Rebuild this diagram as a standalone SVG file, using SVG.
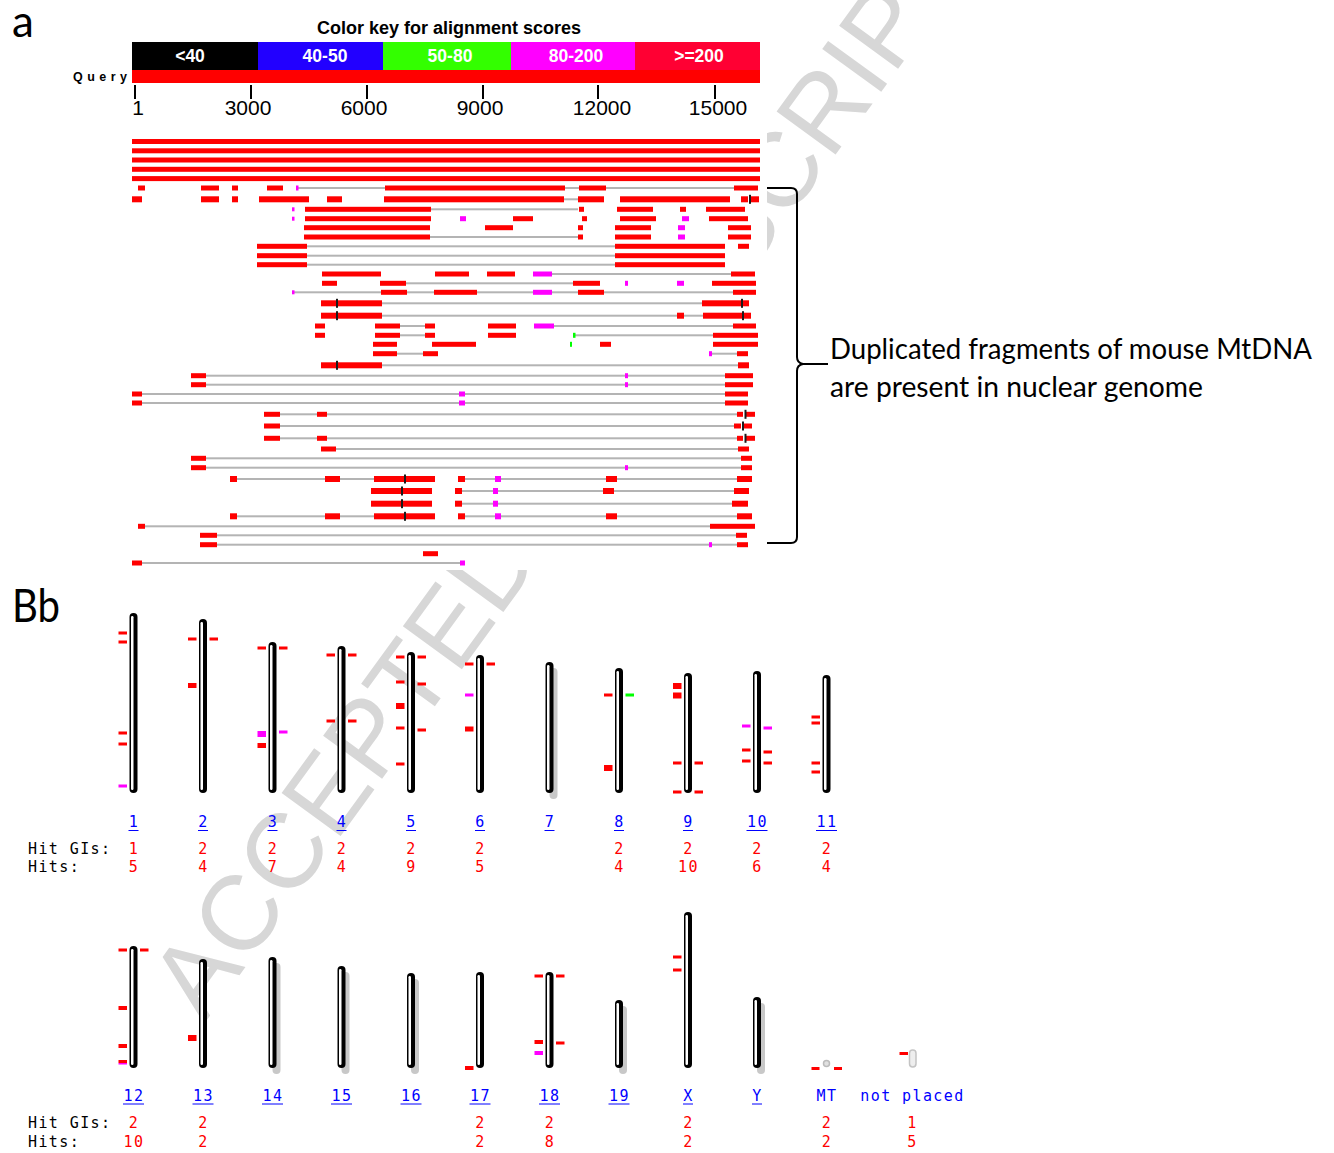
<svg xmlns="http://www.w3.org/2000/svg" width="1334" height="1153" viewBox="0 0 1334 1153">
<style>
.r{fill:#ff0000}.g{fill:#b4b4b4}.m{fill:#ff00ff}.n{fill:#00ff00}.k{fill:#1a1a1a}
.cb{fill:#000}.cw{fill:#fff}.cs{fill:#c8c8c8}
.lbl{font-family:"Lato","Open Sans",sans-serif;fill:#000}
.mono{font-family:"DejaVu Sans Mono",monospace;font-size:15px;letter-spacing:1.4px}
.blue{fill:#0000ff}.red{fill:#ff0000}.blk{fill:#000}
.ul{stroke:#0000ff;stroke-width:1}
.key{font-family:"Liberation Sans",Arial,sans-serif;font-weight:bold;font-size:17.5px;fill:#fff;text-anchor:middle}
.tick{font-family:"Liberation Sans",Arial,sans-serif;font-size:21px;fill:#000;text-anchor:middle}
</style>
<rect width="1334" height="1153" fill="#fff"/>
<g id="watermark">
<text transform="translate(204,1024) rotate(-54)" font-family="Liberation Sans, Arial, sans-serif" font-size="106" fill="#d7d7d7">ACCEPTED MANUSCRIPT</text>
</g>
<rect x="128" y="0" width="639" height="570" fill="#fff"/>
<g id="panel-a">
<text class="lbl" x="12" y="37" font-size="44">a</text>
<g id="color-key">
<text x="449" y="34" text-anchor="middle" font-family="Liberation Sans, Arial, sans-serif" font-weight="bold" font-size="18">Color key for alignment scores</text>
<rect x="132" y="42" width="126" height="28" fill="#000"/>
<rect x="258" y="42" width="125" height="28" fill="#2200ff"/>
<rect x="383" y="42" width="128" height="28" fill="#33ff00"/>
<rect x="511" y="42" width="124" height="28" fill="#ff00ff"/>
<rect x="635" y="42" width="125" height="28" fill="#ff0033"/>
<text class="key" x="190" y="62">&lt;40</text>
<text class="key" x="325" y="62">40-50</text>
<text class="key" x="450" y="62">50-80</text>
<text class="key" x="576" y="62">80-200</text>
<text class="key" x="699" y="62">&gt;=200</text>
<text x="73" y="81" font-family="Liberation Sans, Arial, sans-serif" font-weight="bold" font-size="12.5" textLength="54" lengthAdjust="spacing">Query</text>
<rect x="132" y="70" width="628" height="13" fill="#ff0000"/>
<g fill="#000">
<rect x="134" y="85" width="2" height="14"/><rect x="250" y="85" width="2" height="14"/><rect x="366" y="85" width="2" height="14"/>
<rect x="482" y="85" width="2" height="14"/><rect x="597" y="85" width="2" height="14"/><rect x="714" y="85" width="2" height="14"/>
</g>
<text class="tick" x="138" y="115">1</text>
<text class="tick" x="248" y="115">3000</text>
<text class="tick" x="364" y="115">6000</text>
<text class="tick" x="480" y="115">9000</text>
<text class="tick" x="602" y="115">12000</text>
<text class="tick" x="718" y="115">15000</text>
</g>
<g id="alignments">
<g transform="translate(0,141.5)"><rect class="r" x="132" y="-2.5" width="628" height="5"/></g>
<g transform="translate(0,150.8)"><rect class="r" x="132" y="-2.5" width="628" height="5"/></g>
<g transform="translate(0,160)"><rect class="r" x="132" y="-2.5" width="628" height="5"/></g>
<g transform="translate(0,169.3)"><rect class="r" x="132" y="-2.5" width="628" height="5"/></g>
<g transform="translate(0,178.6)"><rect class="r" x="132" y="-2.5" width="628" height="5"/></g>
<g transform="translate(0,188)">
<rect class="g" x="298" y="-1" width="87" height="2"/><rect class="g" x="565" y="-1" width="14" height="2"/><rect class="g" x="606" y="-1" width="128" height="2"/>
<rect class="r" x="138" y="-2.5" width="7" height="5"/><rect class="r" x="201" y="-2.5" width="18" height="5"/><rect class="r" x="232" y="-2.5" width="6" height="5"/><rect class="r" x="267" y="-2.5" width="16" height="5"/><rect class="r" x="385" y="-2.5" width="180" height="5"/><rect class="r" x="579" y="-2.5" width="27" height="5"/><rect class="r" x="734" y="-2.5" width="24" height="5"/>
<rect class="m" x="296" y="-2.5" width="2.5" height="5"/>
</g>
<g transform="translate(0,199.3)">
<rect class="g" x="564" y="-1" width="14" height="2"/>
<rect class="r" x="132" y="-3" width="10" height="6"/><rect class="r" x="201" y="-3" width="18" height="6"/><rect class="r" x="232" y="-3" width="6" height="6"/><rect class="r" x="259" y="-3" width="50" height="6"/><rect class="r" x="327" y="-3" width="15" height="6"/><rect class="r" x="384" y="-3" width="180" height="6"/><rect class="r" x="578" y="-3" width="26" height="6"/><rect class="r" x="620" y="-3" width="110" height="6"/><rect class="r" x="741" y="-3" width="7" height="6"/><rect class="r" x="751" y="-3" width="8" height="6"/>
<rect class="k" x="749" y="-4.5" width="2" height="9"/>
</g>
<g transform="translate(0,209.3)">
<rect class="g" x="431" y="-1" width="147" height="2"/>
<rect class="m" x="292" y="-2" width="2.5" height="4"/>
<rect class="r" x="305" y="-2.5" width="126" height="5"/><rect class="r" x="579" y="-2.5" width="5" height="5"/><rect class="r" x="617" y="-2.5" width="36" height="5"/><rect class="r" x="680" y="-2.5" width="6" height="5"/><rect class="r" x="706" y="-2.5" width="39" height="5"/>
</g>
<g transform="translate(0,218.7)">
<rect class="m" x="292" y="-2" width="2.5" height="4"/><rect class="m" x="460" y="-2.5" width="6" height="5"/><rect class="m" x="682" y="-2.5" width="7" height="5"/>
<rect class="r" x="305" y="-2.5" width="126" height="5"/><rect class="r" x="513" y="-2.5" width="20" height="5"/><rect class="r" x="582" y="-2.5" width="5" height="5"/><rect class="r" x="620" y="-2.5" width="36" height="5"/><rect class="r" x="709" y="-2.5" width="39" height="5"/>
</g>
<g transform="translate(0,227.7)">
<rect class="r" x="304" y="-2.5" width="126" height="5"/><rect class="r" x="485" y="-2.5" width="28" height="5"/><rect class="r" x="578" y="-2.5" width="5" height="5"/><rect class="r" x="615" y="-2.5" width="36" height="5"/><rect class="r" x="728" y="-2.5" width="23" height="5"/>
<rect class="m" x="678" y="-2.5" width="7" height="5"/>
</g>
<g transform="translate(0,237)">
<rect class="g" x="430" y="-1" width="148" height="2"/>
<rect class="r" x="304" y="-2.5" width="126" height="5"/><rect class="r" x="578" y="-2.5" width="5" height="5"/><rect class="r" x="615" y="-2.5" width="36" height="5"/><rect class="r" x="728" y="-2.5" width="23" height="5"/>
<rect class="m" x="678" y="-2.5" width="7" height="5"/>
</g>
<g transform="translate(0,246.3)">
<rect class="g" x="307" y="-1" width="308" height="2"/>
<rect class="r" x="257" y="-2.5" width="50" height="5"/><rect class="r" x="615" y="-2.5" width="110" height="5"/><rect class="r" x="738" y="-2.5" width="11" height="5"/>
</g>
<g transform="translate(0,255.7)">
<rect class="g" x="307" y="-1" width="308" height="2"/>
<rect class="r" x="257" y="-2.5" width="50" height="5"/><rect class="r" x="615" y="-2.5" width="110" height="5"/>
</g>
<g transform="translate(0,264.7)">
<rect class="g" x="307" y="-1" width="308" height="2"/>
<rect class="r" x="257" y="-2.5" width="50" height="5"/><rect class="r" x="615" y="-2.5" width="110" height="5"/>
</g>
<g transform="translate(0,274)">
<rect class="g" x="552" y="-1" width="179" height="2"/>
<rect class="r" x="322" y="-2.5" width="59" height="5"/><rect class="r" x="435" y="-2.5" width="34" height="5"/><rect class="r" x="487" y="-2.5" width="28" height="5"/><rect class="r" x="731" y="-2.5" width="24" height="5"/>
<rect class="m" x="533" y="-2.5" width="19" height="5"/>
</g>
<g transform="translate(0,283.3)">
<rect class="g" x="406" y="-1" width="167" height="2"/>
<rect class="r" x="322" y="-2.5" width="15" height="5"/><rect class="r" x="380" y="-2.5" width="26" height="5"/><rect class="r" x="573" y="-2.5" width="27" height="5"/><rect class="r" x="712" y="-2.5" width="44" height="5"/>
<rect class="m" x="625" y="-2.5" width="3" height="5"/><rect class="m" x="677" y="-2.5" width="7" height="5"/>
</g>
<g transform="translate(0,292.3)">
<rect class="g" x="294" y="-1" width="439" height="2"/>
<rect class="m" x="292" y="-2" width="2.5" height="4"/><rect class="m" x="533" y="-2.5" width="19" height="5"/>
<rect class="r" x="381" y="-2.5" width="26" height="5"/><rect class="r" x="434" y="-2.5" width="43" height="5"/><rect class="r" x="578" y="-2.5" width="26" height="5"/><rect class="r" x="733" y="-2.5" width="23" height="5"/>
</g>
<g transform="translate(0,303.3)">
<rect class="g" x="382" y="-1" width="320" height="2"/>
<rect class="r" x="321" y="-3" width="61" height="6"/><rect class="r" x="702" y="-3" width="47" height="6"/>
<rect class="k" x="336" y="-4.5" width="2" height="9"/><rect class="k" x="741" y="-4.5" width="2" height="9"/>
</g>
<g transform="translate(0,315.7)">
<rect class="g" x="382" y="-1" width="321" height="2"/>
<rect class="r" x="321" y="-3" width="61" height="6"/><rect class="r" x="677" y="-3" width="7" height="6"/><rect class="r" x="703" y="-3" width="48" height="6"/>
<rect class="k" x="336" y="-4.5" width="2" height="9"/><rect class="k" x="742" y="-4.5" width="2" height="9"/>
</g>
<g transform="translate(0,326)">
<rect class="g" x="400" y="-1" width="25" height="2"/><rect class="g" x="554" y="-1" width="179" height="2"/>
<rect class="r" x="315" y="-2.5" width="10" height="5"/><rect class="r" x="375" y="-2.5" width="25" height="5"/><rect class="r" x="425" y="-2.5" width="10" height="5"/><rect class="r" x="488" y="-2.5" width="28" height="5"/><rect class="r" x="733" y="-2.5" width="23" height="5"/>
<rect class="m" x="534" y="-2.5" width="20" height="5"/>
</g>
<g transform="translate(0,335.3)">
<rect class="g" x="400" y="-1" width="25" height="2"/><rect class="g" x="575" y="-1" width="138" height="2"/>
<rect class="r" x="315" y="-2.5" width="10" height="5"/><rect class="r" x="375" y="-2.5" width="25" height="5"/><rect class="r" x="425" y="-2.5" width="10" height="5"/><rect class="r" x="488" y="-2.5" width="28" height="5"/><rect class="r" x="713" y="-2.5" width="45" height="5"/>
<rect class="n" x="573" y="-2.5" width="2.5" height="5"/>
</g>
<g transform="translate(0,344.3)">
<rect class="r" x="373" y="-2.5" width="24" height="5"/><rect class="r" x="432" y="-2.5" width="44" height="5"/><rect class="r" x="600" y="-2.5" width="11" height="5"/><rect class="r" x="713" y="-2.5" width="45" height="5"/>
<rect class="n" x="570" y="-2.5" width="2" height="5"/>
</g>
<g transform="translate(0,353.7)">
<rect class="g" x="397" y="-1" width="26" height="2"/><rect class="g" x="712" y="-1" width="25" height="2"/>
<rect class="r" x="373" y="-2.5" width="24" height="5"/><rect class="r" x="423" y="-2.5" width="15" height="5"/><rect class="r" x="737" y="-2.5" width="11" height="5"/>
<rect class="m" x="709" y="-2.5" width="3" height="5"/>
</g>
<g transform="translate(0,365.3)">
<rect class="g" x="382" y="-1" width="356" height="2"/>
<rect class="r" x="321" y="-3" width="61" height="6"/><rect class="r" x="738" y="-3" width="11" height="6"/>
<rect class="k" x="336" y="-4.5" width="2" height="9"/>
</g>
<g transform="translate(0,375.7)">
<rect class="g" x="206" y="-1" width="519" height="2"/>
<rect class="r" x="191" y="-2.5" width="15" height="5"/><rect class="r" x="725" y="-2.5" width="28" height="5"/>
<rect class="m" x="625" y="-2.5" width="3" height="5"/>
</g>
<g transform="translate(0,384.7)">
<rect class="g" x="206" y="-1" width="519" height="2"/>
<rect class="r" x="191" y="-2.5" width="15" height="5"/><rect class="r" x="725" y="-2.5" width="28" height="5"/>
<rect class="m" x="625" y="-2.5" width="3" height="5"/>
</g>
<g transform="translate(0,394)">
<rect class="g" x="142" y="-1" width="583" height="2"/>
<rect class="r" x="132" y="-2.5" width="10" height="5"/><rect class="r" x="725" y="-2.5" width="23" height="5"/>
<rect class="m" x="459" y="-2.5" width="6" height="5"/>
</g>
<g transform="translate(0,403)">
<rect class="g" x="142" y="-1" width="583" height="2"/>
<rect class="r" x="132" y="-2.5" width="10" height="5"/><rect class="r" x="725" y="-2.5" width="23" height="5"/>
<rect class="m" x="459" y="-2.5" width="6" height="5"/>
</g>
<g transform="translate(0,414.3)">
<rect class="g" x="280" y="-1" width="37" height="2"/><rect class="g" x="327" y="-1" width="410" height="2"/>
<rect class="r" x="264" y="-2.5" width="16" height="5"/><rect class="r" x="317" y="-2.5" width="10" height="5"/><rect class="r" x="737" y="-2.5" width="6" height="5"/><rect class="r" x="746" y="-2.5" width="9" height="5"/>
<rect class="k" x="744.5" y="-4.5" width="2" height="9"/>
</g>
<g transform="translate(0,426)">
<rect class="g" x="280" y="-1" width="454" height="2"/>
<rect class="r" x="264" y="-2.5" width="16" height="5"/><rect class="r" x="734" y="-2.5" width="7" height="5"/><rect class="r" x="744" y="-2.5" width="8" height="5"/>
<rect class="k" x="742" y="-4.5" width="2" height="9"/>
</g>
<g transform="translate(0,438.3)">
<rect class="g" x="280" y="-1" width="37" height="2"/><rect class="g" x="327" y="-1" width="410" height="2"/>
<rect class="r" x="264" y="-2.5" width="16" height="5"/><rect class="r" x="317" y="-2.5" width="10" height="5"/><rect class="r" x="737" y="-2.5" width="6" height="5"/><rect class="r" x="746" y="-2.5" width="9" height="5"/>
<rect class="k" x="744.5" y="-4.5" width="2" height="9"/>
</g>
<g transform="translate(0,449)">
<rect class="g" x="336" y="-1" width="402" height="2"/>
<rect class="r" x="321" y="-2.5" width="15" height="5"/><rect class="r" x="738" y="-2.5" width="11" height="5"/>
</g>
<g transform="translate(0,458.3)">
<rect class="g" x="206" y="-1" width="535" height="2"/>
<rect class="r" x="191" y="-2.5" width="15" height="5"/><rect class="r" x="741" y="-2.5" width="11" height="5"/>
</g>
<g transform="translate(0,467.7)">
<rect class="g" x="206" y="-1" width="535" height="2"/>
<rect class="r" x="191" y="-2.5" width="15" height="5"/><rect class="r" x="741" y="-2.5" width="11" height="5"/>
<rect class="m" x="625" y="-2.5" width="3" height="5"/>
</g>
<g transform="translate(0,479)">
<rect class="g" x="237" y="-1" width="88" height="2"/><rect class="g" x="340" y="-1" width="34" height="2"/><rect class="g" x="465" y="-1" width="272" height="2"/>
<rect class="r" x="230" y="-3" width="7" height="6"/><rect class="r" x="325" y="-3" width="15" height="6"/><rect class="r" x="374" y="-3" width="61" height="6"/><rect class="r" x="458" y="-3" width="7" height="6"/><rect class="r" x="606" y="-3" width="11" height="6"/><rect class="r" x="737" y="-3" width="15" height="6"/>
<rect class="m" x="495" y="-3" width="6" height="6"/>
<rect class="k" x="404" y="-4.5" width="2" height="9"/>
</g>
<g transform="translate(0,491)">
<rect class="g" x="462" y="-1" width="272" height="2"/>
<rect class="r" x="371" y="-3" width="61" height="6"/><rect class="r" x="455" y="-3" width="7" height="6"/><rect class="r" x="603" y="-3" width="11" height="6"/><rect class="r" x="734" y="-3" width="15" height="6"/>
<rect class="m" x="493" y="-3" width="5" height="6"/>
<rect class="k" x="401" y="-4.5" width="2" height="9"/>
</g>
<g transform="translate(0,503.7)">
<rect class="g" x="462" y="-1" width="270" height="2"/>
<rect class="r" x="371" y="-3" width="61" height="6"/><rect class="r" x="455" y="-3" width="7" height="6"/><rect class="r" x="732" y="-3" width="16" height="6"/>
<rect class="m" x="493" y="-3" width="5" height="6"/>
<rect class="k" x="401" y="-4.5" width="2" height="9"/>
</g>
<g transform="translate(0,516.3)">
<rect class="g" x="237" y="-1" width="88" height="2"/><rect class="g" x="340" y="-1" width="34" height="2"/><rect class="g" x="465" y="-1" width="272" height="2"/>
<rect class="r" x="230" y="-3" width="7" height="6"/><rect class="r" x="325" y="-3" width="15" height="6"/><rect class="r" x="374" y="-3" width="61" height="6"/><rect class="r" x="458" y="-3" width="7" height="6"/><rect class="r" x="606" y="-3" width="11" height="6"/><rect class="r" x="737" y="-3" width="15" height="6"/>
<rect class="m" x="495" y="-3" width="6" height="6"/>
<rect class="k" x="404" y="-4.5" width="2" height="9"/>
</g>
<g transform="translate(0,526.3)">
<rect class="g" x="145" y="-1" width="565" height="2"/>
<rect class="r" x="138" y="-2.5" width="7" height="5"/><rect class="r" x="710" y="-2.5" width="45" height="5"/>
</g>
<g transform="translate(0,535.3)">
<rect class="g" x="217" y="-1" width="519" height="2"/>
<rect class="r" x="200" y="-2.5" width="17" height="5"/><rect class="r" x="736" y="-2.5" width="11" height="5"/>
</g>
<g transform="translate(0,544.7)">
<rect class="g" x="217" y="-1" width="520" height="2"/>
<rect class="r" x="200" y="-2.5" width="17" height="5"/><rect class="r" x="737" y="-2.5" width="11" height="5"/>
<rect class="m" x="709" y="-2.5" width="3" height="5"/>
</g>
<g transform="translate(0,553.7)">
<rect class="r" x="423" y="-2.5" width="15" height="5"/>
</g>
<g transform="translate(0,563)">
<rect class="g" x="142" y="-1" width="318" height="2"/>
<rect class="r" x="132" y="-2.5" width="10" height="5"/>
<rect class="m" x="460" y="-2.5" width="5" height="5"/>
</g>
</g>
<g id="connectors">
<path id="bracket" d="M767,188 L791,188 Q797,188 797,194 L797,357 Q797,363 803,364 L828,364 M803,364 Q797,365 797,371 L797,537 Q797,543 791,543 L767,543" fill="none" stroke="#000" stroke-width="2"/>
</g>
<g id="annotation">
<text class="lbl" x="830" y="359" font-size="28" textLength="482" lengthAdjust="spacingAndGlyphs">Duplicated fragments of mouse MtDNA</text>
<text class="lbl" x="830" y="397" font-size="28" textLength="373" lengthAdjust="spacingAndGlyphs">are present in nuclear genome</text>
</g>
</g>
<g id="panel-b">
<text class="lbl" x="12" y="622" font-size="46" textLength="48" lengthAdjust="spacingAndGlyphs">Bb</text>
<g id="row1">
<g id="chr1"><rect class="cb" x="129.5" y="613" width="8" height="180" rx="4"/><rect class="cw" x="131" y="616" width="2.5" height="174" rx="1.2"/>
<rect class="r" x="118.5" y="631.5" width="8.5" height="3"/><rect class="r" x="118.5" y="640.5" width="8.5" height="3"/><rect class="r" x="118.5" y="731.5" width="8.5" height="3"/><rect class="r" x="118.5" y="742.5" width="8.5" height="3"/><rect class="m" x="118.5" y="784.5" width="8.5" height="3"/></g>
<g id="chr2"><rect class="cb" x="199" y="619" width="8" height="174" rx="4"/><rect class="cw" x="200.5" y="622" width="2.5" height="168" rx="1.2"/>
<rect class="r" x="188" y="637.5" width="8.5" height="3"/><rect class="r" x="209.5" y="637.5" width="8.5" height="3"/><rect class="r" x="188" y="683" width="8.5" height="5"/></g>
<g id="chr3"><rect class="cb" x="268.5" y="642" width="8" height="151" rx="4"/><rect class="cw" x="270" y="645" width="2.5" height="145" rx="1.2"/>
<rect class="r" x="257.5" y="646.5" width="8.5" height="3"/><rect class="r" x="279" y="646.5" width="8.5" height="3"/><rect class="m" x="257.5" y="731" width="8.5" height="6"/><rect class="m" x="279" y="730.5" width="8.5" height="3"/><rect class="r" x="257.5" y="743" width="8.5" height="5"/></g>
<g id="chr4"><rect class="cb" x="337.5" y="646" width="8" height="147" rx="4"/><rect class="cw" x="339" y="649" width="2.5" height="141" rx="1.2"/>
<rect class="r" x="326.5" y="653.5" width="8.5" height="3"/><rect class="r" x="348" y="653.5" width="8.5" height="3"/><rect class="r" x="326.5" y="719.5" width="8.5" height="3"/><rect class="r" x="348" y="719.5" width="8.5" height="3"/></g>
<g id="chr5"><rect class="cb" x="407" y="652" width="8" height="141" rx="4"/><rect class="cw" x="408.5" y="655" width="2.5" height="135" rx="1.2"/>
<rect class="r" x="396" y="655.5" width="8.5" height="3"/><rect class="r" x="417.5" y="655.5" width="8.5" height="3"/><rect class="r" x="396" y="680.5" width="8.5" height="3"/><rect class="r" x="417.5" y="682.5" width="8.5" height="3"/><rect class="r" x="396" y="703" width="8.5" height="6"/><rect class="r" x="396" y="726.5" width="8.5" height="3"/><rect class="r" x="417.5" y="728.5" width="8.5" height="3"/><rect class="r" x="396" y="762.5" width="8.5" height="3"/></g>
<g id="chr6"><rect class="cb" x="476" y="655" width="8" height="138" rx="4"/><rect class="cw" x="477.5" y="658" width="2.5" height="132" rx="1.2"/>
<rect class="r" x="465" y="662.5" width="8.5" height="3"/><rect class="r" x="486.5" y="662.5" width="8.5" height="3"/><rect class="m" x="465" y="693.5" width="8.5" height="3"/><rect class="r" x="465" y="726.5" width="8.5" height="5"/></g>
<g id="chr7"><rect class="cs" x="549.5" y="668" width="8" height="131" rx="4"/><rect class="cb" x="545.5" y="662" width="8" height="131" rx="4"/><rect class="cw" x="547" y="665" width="2.5" height="125" rx="1.2"/></g>
<g id="chr8"><rect class="cb" x="615" y="668" width="8" height="125" rx="4"/><rect class="cw" x="616.5" y="671" width="2.5" height="119" rx="1.2"/>
<rect class="r" x="604" y="693.5" width="8.5" height="3"/><rect class="n" x="625.5" y="693.5" width="8.5" height="3"/><rect class="r" x="604" y="765" width="8.5" height="6"/></g>
<g id="chr9"><rect class="cb" x="684" y="673" width="8" height="120" rx="4"/><rect class="cw" x="685.5" y="676" width="2.5" height="114" rx="1.2"/>
<rect class="r" x="673" y="683" width="8.5" height="6"/><rect class="r" x="673" y="692.5" width="8.5" height="6"/><rect class="r" x="673" y="761.5" width="8.5" height="3"/><rect class="r" x="694.5" y="761.5" width="8.5" height="3"/><rect class="r" x="673" y="790.5" width="8.5" height="3"/><rect class="r" x="694.5" y="790.5" width="8.5" height="3"/></g>
<g id="chr10"><rect class="cb" x="753" y="671" width="8" height="122" rx="4"/><rect class="cw" x="754.5" y="674" width="2.5" height="116" rx="1.2"/>
<rect class="m" x="742" y="724.5" width="8.5" height="3"/><rect class="m" x="763.5" y="726.5" width="8.5" height="3"/><rect class="r" x="742" y="748.5" width="8.5" height="3"/><rect class="r" x="763.5" y="750.5" width="8.5" height="3"/><rect class="r" x="742" y="759.5" width="8.5" height="3"/><rect class="r" x="763.5" y="761.5" width="8.5" height="3"/></g>
<g id="chr11"><rect class="cb" x="822.5" y="675" width="8" height="118" rx="4"/><rect class="cw" x="824" y="678" width="2.5" height="112" rx="1.2"/>
<rect class="r" x="811.5" y="715.5" width="8.5" height="3"/><rect class="r" x="811.5" y="721.5" width="8.5" height="3"/><rect class="r" x="811.5" y="761.5" width="8.5" height="3"/><rect class="r" x="811.5" y="770.5" width="8.5" height="3"/></g>
<g class="mono" text-anchor="middle">
<g class="blue">
<text x="134" y="826.5">1</text><text x="203.5" y="826.5">2</text><text x="273" y="826.5">3</text><text x="342" y="826.5">4</text><text x="411.5" y="826.5">5</text><text x="480.5" y="826.5">6</text><text x="550" y="826.5">7</text><text x="619.5" y="826.5">8</text><text x="688.5" y="826.5">9</text><text x="757.5" y="826.5">10</text><text x="827" y="826.5">11</text>
</g>
<g class="red">
<text x="134" y="853.5">1</text><text x="203.5" y="853.5">2</text><text x="273" y="853.5">2</text><text x="342" y="853.5">2</text><text x="411.5" y="853.5">2</text><text x="480.5" y="853.5">2</text><text x="619.5" y="853.5">2</text><text x="688.5" y="853.5">2</text><text x="757.5" y="853.5">2</text><text x="827" y="853.5">2</text>
<text x="134" y="871.5">5</text><text x="203.5" y="871.5">4</text><text x="273" y="871.5">7</text><text x="342" y="871.5">4</text><text x="411.5" y="871.5">9</text><text x="480.5" y="871.5">5</text><text x="619.5" y="871.5">4</text><text x="688.5" y="871.5">10</text><text x="757.5" y="871.5">6</text><text x="827" y="871.5">4</text>
</g>
</g>
<g class="ul">
<line x1="128.5" y1="830.5" x2="138.5" y2="830.5"/><line x1="198" y1="830.5" x2="208" y2="830.5"/><line x1="267.5" y1="830.5" x2="277.5" y2="830.5"/><line x1="336.5" y1="830.5" x2="346.5" y2="830.5"/><line x1="406" y1="830.5" x2="416" y2="830.5"/><line x1="475" y1="830.5" x2="485" y2="830.5"/><line x1="544.5" y1="830.5" x2="554.5" y2="830.5"/><line x1="614" y1="830.5" x2="624" y2="830.5"/><line x1="683" y1="830.5" x2="693" y2="830.5"/><line x1="746.5" y1="830.5" x2="767.5" y2="830.5"/><line x1="816" y1="830.5" x2="837" y2="830.5"/>
</g>
<text class="mono blk" x="28" y="853.5">Hit GIs:</text>
<text class="mono blk" x="28" y="871.5">Hits:</text>
</g>
<g id="row2">
<g id="chr12"><rect class="cb" x="129.5" y="946" width="8" height="122" rx="4"/><rect class="cw" x="131" y="949" width="2.5" height="116" rx="1.2"/>
<rect class="r" x="118.5" y="948.5" width="8.5" height="3"/><rect class="r" x="140" y="948.5" width="8.5" height="3"/><rect class="r" x="118.5" y="1006" width="8.5" height="4"/><rect class="r" x="118.5" y="1044" width="8.5" height="4"/><rect class="r" x="118.5" y="1060" width="8.5" height="3"/><rect class="m" x="118.5" y="1063" width="8.5" height="1.5"/></g>
<g id="chr13"><rect class="cb" x="199" y="959" width="8" height="109" rx="4"/><rect class="cw" x="200.5" y="962" width="2.5" height="103" rx="1.2"/>
<rect class="r" x="188" y="1035" width="8.5" height="6"/></g>
<g id="chr14"><rect class="cs" x="272.5" y="963" width="8" height="111" rx="4"/><rect class="cb" x="268.5" y="957" width="8" height="111" rx="4"/><rect class="cw" x="270" y="960" width="2.5" height="105" rx="1.2"/></g>
<g id="chr15"><rect class="cs" x="341.5" y="972" width="8" height="102" rx="4"/><rect class="cb" x="337.5" y="966" width="8" height="102" rx="4"/><rect class="cw" x="339" y="969" width="2.5" height="96" rx="1.2"/></g>
<g id="chr16"><rect class="cs" x="411" y="979" width="8" height="95" rx="4"/><rect class="cb" x="407" y="973" width="8" height="95" rx="4"/><rect class="cw" x="408.5" y="976" width="2.5" height="89" rx="1.2"/></g>
<g id="chr17"><rect class="cb" x="476" y="972" width="8" height="96" rx="4"/><rect class="cw" x="477.5" y="975" width="2.5" height="90" rx="1.2"/>
<rect class="r" x="465" y="1066" width="8.5" height="4"/></g>
<g id="chr18"><rect class="cb" x="545.5" y="972" width="8" height="96" rx="4"/><rect class="cw" x="547" y="975" width="2.5" height="90" rx="1.2"/>
<rect class="r" x="534.5" y="974.5" width="8.5" height="3"/><rect class="r" x="556" y="974.5" width="8.5" height="3"/><rect class="r" x="534.5" y="1040" width="8.5" height="4"/><rect class="r" x="556" y="1041.5" width="8.5" height="3"/><rect class="m" x="534.5" y="1051" width="8.5" height="4"/></g>
<g id="chr19"><rect class="cs" x="619" y="1006" width="8" height="68" rx="4"/><rect class="cb" x="615" y="1000" width="8" height="68" rx="4"/><rect class="cw" x="616.5" y="1003" width="2.5" height="62" rx="1.2"/></g>
<g id="chrX"><rect class="cb" x="684" y="912" width="8" height="156" rx="4"/><rect class="cw" x="685.5" y="915" width="2.5" height="150" rx="1.2"/>
<rect class="r" x="673" y="955.5" width="8.5" height="3"/><rect class="r" x="673" y="968.5" width="8.5" height="3"/></g>
<g id="chrY"><rect class="cs" x="757" y="1003" width="8" height="71" rx="4"/><rect class="cb" x="753" y="997" width="8" height="71" rx="4"/><rect class="cw" x="754.5" y="1000" width="2.5" height="65" rx="1.2"/></g>
<g id="chrMT"><circle cx="826.5" cy="1063.5" r="3" fill="#e0e0e0" stroke="#bbbbbb" stroke-width="1.5"/>
<rect class="r" x="811.5" y="1067" width="8" height="3"/><rect class="r" x="834" y="1067" width="8" height="3"/></g>
<g id="chrNP"><rect x="909.5" y="1050" width="6.5" height="17" rx="3.2" fill="#eeeeee" stroke="#c4c4c4" stroke-width="1.5"/>
<rect class="r" x="899.5" y="1052" width="8.5" height="3"/></g>
<g class="mono" text-anchor="middle">
<g class="blue">
<text x="134" y="1100.5">12</text><text x="203.5" y="1100.5">13</text><text x="273" y="1100.5">14</text><text x="342" y="1100.5">15</text><text x="411.5" y="1100.5">16</text><text x="480.5" y="1100.5">17</text><text x="550" y="1100.5">18</text><text x="619.5" y="1100.5">19</text><text x="688.5" y="1100.5">X</text><text x="757.5" y="1100.5">Y</text><text x="827" y="1100.5">MT</text><text x="912.5" y="1100.5">not placed</text>
</g>
<g class="red">
<text x="134" y="1128">2</text><text x="203.5" y="1128">2</text><text x="480.5" y="1128">2</text><text x="550" y="1128">2</text><text x="688.5" y="1128">2</text><text x="827" y="1128">2</text><text x="912.5" y="1128">1</text>
<text x="134" y="1146.5">10</text><text x="203.5" y="1146.5">2</text><text x="480.5" y="1146.5">2</text><text x="550" y="1146.5">8</text><text x="688.5" y="1146.5">2</text><text x="827" y="1146.5">2</text><text x="912.5" y="1146.5">5</text>
</g>
</g>
<g class="ul">
<line x1="123" y1="1104" x2="144" y2="1104"/><line x1="192.5" y1="1104" x2="213.5" y2="1104"/><line x1="262" y1="1104" x2="283" y2="1104"/><line x1="331" y1="1104" x2="352" y2="1104"/><line x1="400.5" y1="1104" x2="421.5" y2="1104"/><line x1="469.5" y1="1104" x2="490.5" y2="1104"/><line x1="539" y1="1104" x2="560" y2="1104"/><line x1="608.5" y1="1104" x2="629.5" y2="1104"/><line x1="683" y1="1104" x2="693" y2="1104"/><line x1="752" y1="1104" x2="762" y2="1104"/>
</g>
<text class="mono blk" x="28" y="1128">Hit GIs:</text>
<text class="mono blk" x="28" y="1146.5">Hits:</text>
</g>
</g>
</svg>
